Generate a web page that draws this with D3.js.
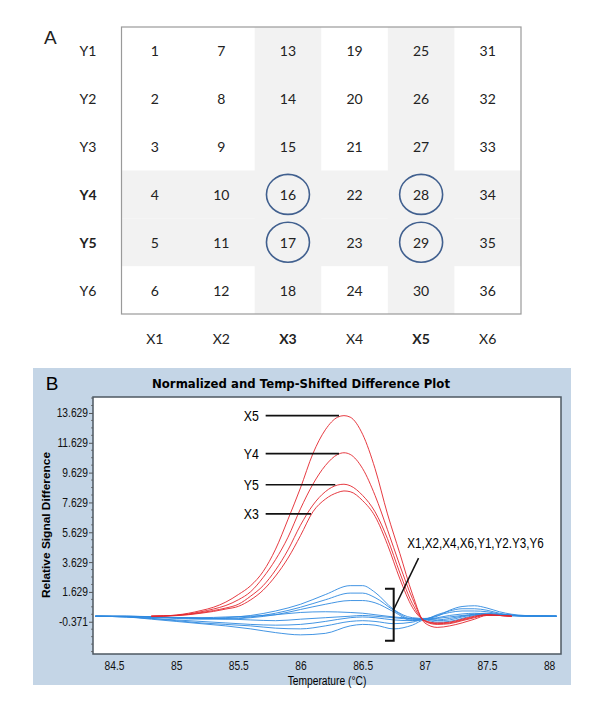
<!DOCTYPE html>
<html><head><meta charset="utf-8">
<script src="https://cdn.jsdelivr.net/npm/d3@7"></script>
<style>body{margin:0;background:#fff}</style>
</head><body><svg id="c" width="600" height="714"></svg>
<script>
// ---------- Panel A data ----------
const rowLabels = ["Y1","Y2","Y3","Y4","Y5","Y6"];
const colLabels = ["X1","X2","X3","X4","X5","X6"];
const boldRows = ["Y4","Y5"];
const boldCols = ["X3","X5"];
const circledWells = [16,17,28,29];

// ---------- Panel B data ----------
const xTickValues = [84.5,85,85.5,86,86.5,87,87.5,88];
const xTickLabels = ["84.5","85","85.5","86","86.5","87","87.5","88"];
const yTickValues = [-0.371,1.629,3.629,5.629,7.629,9.629,11.629,13.629];
const yTickLabels = ["-0.371","1.629","3.629","5.629","7.629","9.629","11.629","13.629"];

const redTemps = [84.8,84.9,85.0,85.1,85.2,85.3,85.4,85.5,85.6,85.7,85.8,85.9,86.0,86.1,86.2,86.3,86.35,86.4,86.5,86.6,86.7,86.8,86.9,87.0,87.1,87.2,87.3,87.4,87.5,87.6,87.7];
const redX5 = [0,0.02,0.08,0.2,0.38,0.6,0.95,1.45,2.05,3.0,4.5,6.5,8.6,10.9,12.5,13.35,13.45,13.35,12.2,9.9,6.86,4.2,1.5,-0.45,-0.75,-0.65,-0.45,-0.2,0.05,0.05,0];
const redY4 = [0,0.02,0.06,0.15,0.3,0.48,0.72,1.1,1.65,2.6,3.8,5.3,7.2,8.85,10.1,10.85,10.96,10.85,9.9,8.1,5.8,3.4,1.2,-0.35,-0.55,-0.5,-0.3,-0.1,0.08,0.05,0];
const redY5 = [0,0.02,0.05,0.12,0.24,0.38,0.55,0.8,1.35,2.05,3.1,4.45,6.1,7.45,8.35,8.8,8.85,8.75,8.1,7.0,5.2,2.9,0.85,-0.3,-0.45,-0.4,-0.2,0.0,0.1,0.05,0];
const redX3 = [0,0.01,0.04,0.1,0.2,0.32,0.48,0.66,1.1,1.75,2.7,3.9,5.4,7.0,7.85,8.3,8.4,8.35,7.75,6.7,4.8,2.5,0.6,-0.3,-0.5,-0.45,-0.25,-0.05,0.1,0.05,0];

const blueTemps = [84.35,84.6,84.8,85.0,85.2,85.4,85.6,85.8,86.0,86.2,86.4,86.5,86.6,86.75,86.9,87.0,87.1,87.2,87.3,87.4,87.5,87.6,87.8,88.06];
const blue1 = [0,0,-0.05,-0.1,-0.15,-0.1,0.05,0.35,0.8,1.45,2.05,2.05,1.6,0.45,-0.1,-0.15,0.0,0.4,0.65,0.7,0.55,0.3,0.05,0];
const blue2 = [0,0,-0.05,-0.1,-0.15,-0.15,-0.05,0.2,0.6,1.1,1.55,1.55,1.25,0.4,-0.2,-0.2,0.1,0.35,0.5,0.5,0.4,0.2,0.03,0];
const blue3 = [0,-0.02,-0.08,-0.15,-0.2,-0.2,-0.1,0.1,0.45,0.8,1.05,1.05,0.9,0.3,-0.3,-0.2,0.05,0.25,0.35,0.35,0.3,0.15,0.02,0];
const blue4 = [0,-0.02,-0.05,-0.1,-0.1,-0.05,0.0,0.1,0.25,0.3,0.25,0.2,0.1,-0.05,-0.15,-0.2,-0.1,0.05,0.15,0.2,0.15,0.1,0.02,0];
const blue5 = [0,-0.05,-0.15,-0.25,-0.35,-0.45,-0.55,-0.6,-0.55,-0.35,-0.1,-0.05,-0.1,-0.25,-0.3,-0.2,-0.25,-0.15,0.0,0.15,0.2,0.12,0.02,0];
const blue6 = [0,-0.05,-0.15,-0.3,-0.45,-0.55,-0.65,-0.8,-0.85,-0.65,-0.35,-0.3,-0.35,-0.5,-0.4,-0.2,-0.3,-0.25,-0.05,0.1,0.15,0.1,0.02,0];
const blue7 = [0,-0.05,-0.2,-0.35,-0.5,-0.65,-0.85,-1.1,-1.25,-1.15,-0.65,-0.55,-0.6,-0.85,-0.6,-0.25,-0.4,-0.35,-0.15,0.05,0.1,0.1,0.02,0];
const blue8 = [0,0,-0.03,-0.08,-0.12,-0.18,-0.25,-0.3,-0.2,-0.1,0.0,0.05,0.0,-0.1,-0.2,-0.2,-0.15,-0.05,0.05,0.1,0.1,0.05,0.0,0];

const redSeries = [
  {name:"X5", values:redX5},
  {name:"Y4", values:redY4},
  {name:"Y5", values:redY5},
  {name:"X3", values:redX3}
];
const blueSeries = [blue1,blue2,blue3,blue4,blue5,blue6,blue7,blue8];
const groupLabel = "X1,X2,X4,X6,Y1,Y2.Y3,Y6";

// ---------- Drawing ----------
const svg = d3.select("#c");
const arial = "'Liberation Sans',Arial,sans-serif";
// emulate a narrow face by compressing Liberation Sans horizontally
function condense(sel, f) {
  sel.each(function(){
    const L = this.getComputedTextLength();
    d3.select(this).attr("textLength", L*f).attr("lengthAdjust","spacingAndGlyphs");
  });
}

// Panel A
const A = {left:121.5, right:521, top:27, bottom:314};
const colX = d3.scaleBand().domain(colLabels).range([A.left, A.right]);
const rowY = d3.scaleBand().domain(rowLabels).range([A.top, A.bottom]);
const gA = svg.append("g").attr("font-family","Lato, 'Open Sans', sans-serif").attr("font-size",14).attr("fill","#222");

gA.append("text").attr("x",44).attr("y",44).attr("font-family",arial).attr("font-size",19).text("A");

boldCols.forEach(c => gA.append("rect").attr("x",colX(c)).attr("y",A.top).attr("width",colX.bandwidth()).attr("height",A.bottom-A.top).attr("fill","#f2f2f2"));
boldRows.forEach(r => gA.append("rect").attr("x",A.left).attr("y",rowY(r)).attr("width",A.right-A.left).attr("height",rowY.bandwidth()).attr("fill","#f2f2f2"));
gA.append("rect").attr("x",A.left).attr("y",A.top).attr("width",A.right-A.left).attr("height",A.bottom-A.top).attr("fill","none").attr("stroke","#9a9a9a").attr("stroke-width",1.2);

const wells = [];
colLabels.forEach((c,ci) => rowLabels.forEach((r,ri) => wells.push({c, r, n: ci*6+ri+1})));
gA.selectAll("text.well").data(wells).join("text").attr("class","well")
  .attr("x",d=>colX(d.c)+colX.bandwidth()/2).attr("y",d=>rowY(d.r)+rowY.bandwidth()/2)
  .attr("text-anchor","middle").attr("dominant-baseline","central").text(d=>d.n);
gA.selectAll("ellipse").data(wells.filter(d=>circledWells.includes(d.n))).join("ellipse")
  .attr("cx",d=>colX(d.c)+colX.bandwidth()/2).attr("cy",d=>rowY(d.r)+rowY.bandwidth()/2)
  .attr("rx",21.5).attr("ry",20).attr("fill","none").attr("stroke","#41608f").attr("stroke-width",1.6);
gA.selectAll("text.row").data(rowLabels).join("text").attr("class","row")
  .attr("x",88).attr("y",d=>rowY(d)+rowY.bandwidth()/2).attr("text-anchor","middle").attr("dominant-baseline","central")
  .attr("font-weight",d=>boldRows.includes(d)?"bold":"normal").text(d=>d);
gA.selectAll("text.col").data(colLabels).join("text").attr("class","col")
  .attr("x",d=>colX(d)+colX.bandwidth()/2).attr("y",338).attr("text-anchor","middle").attr("dominant-baseline","central")
  .attr("font-weight",d=>boldCols.includes(d)?"bold":"normal").text(d=>d);

// Panel B
const B = {x0:33, x1:571, y0:368, y1:685};
const P = {left:93, right:561, top:397, bottom:654};
svg.append("rect").attr("x",B.x0).attr("y",B.y0).attr("width",B.x1-B.x0).attr("height",B.y1-B.y0).attr("fill","#c4d5e6");
svg.append("rect").attr("x",P.left).attr("y",P.top).attr("width",P.right-P.left).attr("height",P.bottom-P.top).attr("fill","#fff");

const x = d3.scaleLinear().domain([84.331, 88.096]).range([P.left, P.right]);
const y = d3.scaleLinear().domain([-2.534, 14.70]).range([P.bottom, P.top]);

svg.append("text").attr("x",52).attr("y",390).attr("text-anchor","middle").attr("font-family",arial).attr("font-size",19).text("B");
svg.append("text").attr("x",152).attr("y",387.5).attr("font-family","'DejaVu Sans',sans-serif").attr("font-weight","bold").attr("font-size",11.5)
  .attr("textLength",298).attr("lengthAdjust","spacingAndGlyphs").text("Normalized and Temp-Shifted Difference Plot");
svg.append("text").attr("transform","translate(50,525) rotate(-90)").attr("text-anchor","middle")
  .attr("font-family",arial).attr("font-weight","bold").attr("font-size",11)
  .attr("textLength",146).attr("lengthAdjust","spacingAndGlyphs").text("Relative Signal Difference");
const xt = svg.append("text").attr("x",327).attr("y",685).attr("text-anchor","middle").attr("font-family",arial).attr("font-size",12.5).text("Temperature (\u00B0C)");
condense(xt, 0.82);

svg.append("clipPath").attr("id","pc").append("rect").attr("x",P.left).attr("y",P.top).attr("width",P.right-P.left).attr("height",P.bottom-P.top);
const plot = svg.append("g").attr("clip-path","url(#pc)");

const lineB = d3.line().x((d,i)=>x(blueTemps[i])).y(d=>y(d)).curve(d3.curveMonotoneX);
const lineR = d3.line().x((d,i)=>x(redTemps[i])).y(d=>y(d)).curve(d3.curveMonotoneX);
plot.selectAll("path.blue").data(blueSeries).join("path").attr("class","blue")
  .attr("d",lineB).attr("fill","none").attr("stroke","#2f8ae0").attr("stroke-width",1).attr("stroke-opacity",0.9);
plot.selectAll("path.red").data(redSeries).join("path").attr("class","red")
  .attr("d",d=>lineR(d.values)).attr("fill","none").attr("stroke","#e3262e").attr("stroke-width",1).attr("stroke-opacity",0.9);

// axes
const yAxis = d3.axisLeft(y).tickValues(yTickValues).tickSize(4).tickPadding(1).tickFormat((d,i)=>yTickLabels[i]);
const gy = svg.append("g").attr("transform",`translate(${P.left},0)`).call(yAxis);
gy.select(".domain").remove();
gy.selectAll("text").attr("font-family",arial).attr("font-size",12.5).attr("fill","#111");
condense(gy.selectAll("text"), 0.82);
gy.selectAll("line").attr("stroke","#555");
const minor = d3.range(-2.371, 14.7, 0.5).filter(v => yTickValues.every(t=>Math.abs(t-v)>0.01));
svg.append("g").selectAll("line").data(minor).join("line").attr("x1",P.left-2).attr("x2",P.left).attr("y1",d=>y(d)).attr("y2",d=>y(d)).attr("stroke","#777");

const xAxis = d3.axisBottom(x).tickValues(xTickValues).tickSize(0).tickPadding(7).tickFormat((d,i)=>xTickLabels[i]);
const gx = svg.append("g").attr("transform",`translate(0,${P.bottom})`).call(xAxis);
gx.select(".domain").remove();
gx.selectAll("text").attr("font-family",arial).attr("font-size",12.5).attr("fill","#111");
condense(gx.selectAll("text"), 0.82);

svg.append("rect").attr("x",P.left).attr("y",P.top).attr("width",P.right-P.left).attr("height",P.bottom-P.top).attr("fill","none").attr("stroke","#4d5862").attr("stroke-width",1.5);

// annotations
const ann = [
  {name:"X5", yv:13.45, t1:86.31},
  {name:"Y4", yv:10.9, t1:86.31},
  {name:"Y5", yv:8.82, t1:86.28},
  {name:"X3", yv:6.86, t1:86.085}
];
const g = svg.append("g");
ann.forEach(a => {
  g.append("line").attr("x1",x(85.72)).attr("x2",x(a.t1)).attr("y1",y(a.yv)).attr("y2",y(a.yv)).attr("stroke","#111").attr("stroke-width",1.6);
  const t = g.append("text").attr("x",x(85.665)).attr("y",y(a.yv)).attr("text-anchor","end").attr("dominant-baseline","central")
    .attr("font-family",arial).attr("font-size",14.5).text(a.name);
  condense(t, 0.85);
});
const gl = g.append("text").attr("x",x(86.86)).attr("y",y(4.88)).attr("dominant-baseline","central").attr("font-family",arial).attr("font-size",14).text(groupLabel);
condense(gl, 0.83);
g.append("line").attr("x1",x(86.95)).attr("y1",y(3.9)).attr("x2",x(86.75)).attr("y2",y(0.45)).attr("stroke","#111").attr("stroke-width",1.5);
g.append("path").attr("d",`M${x(86.68)},${y(1.84)}H${x(86.75)}V${y(-1.65)}H${x(86.68)}`).attr("fill","none").attr("stroke","#111").attr("stroke-width",2);
</script></body></html>
